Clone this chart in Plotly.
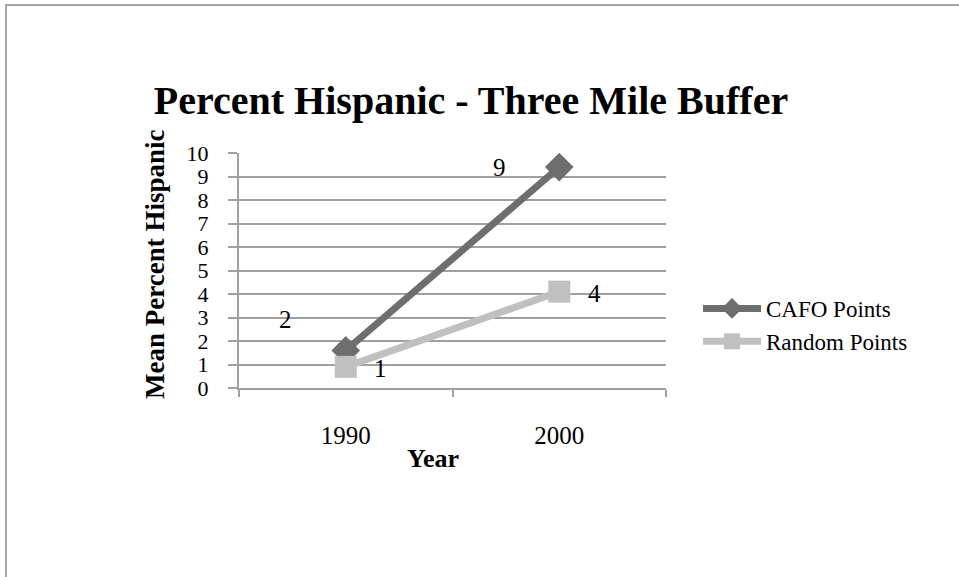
import plotly.graph_objects as go

# Data
years = ["1990", "2000"]
cafo_points = [1.6, 9.4]
random_points = [0.9, 4.1]
y_ticks = list(range(0, 11))

W, H = 959, 577
L, R, T, B = 239, 666, 153, 388  # plot area edges in pixels
FONT = "Liberation Serif"
LABEL_SIZE = 25


def px_x(px):
    return (px - L) / (R - L)


def px_y(py):
    return 1 - (py - T) / (B - T)


fig = go.Figure()
fig.add_trace(go.Scatter(
    x=years, y=cafo_points, name="CAFO Points", mode="lines+markers",
    line=dict(color="#6e6e6e", width=7),
    marker=dict(symbol="diamond", size=22, color="#6e6e6e"),
))
fig.add_trace(go.Scatter(
    x=years, y=random_points, name="Random Points", mode="lines+markers",
    line=dict(color="#c0c0c0", width=7),
    marker=dict(symbol="square", size=22, color="#c0c0c0"),
))

annotations = []
# value labels, rounded to whole percent (category index used for x)
for i, v in enumerate(cafo_points):
    annotations.append(dict(
        x=i, y=v, xref="x", yref="y", text=f"{v:.0f}", showarrow=False,
        xanchor="center", yanchor="middle",
        xshift=-60, yshift=31 if i == 0 else 0,
        font=dict(family=FONT, size=LABEL_SIZE, color="#000"),
    ))
for i, v in enumerate(random_points):
    annotations.append(dict(
        x=i, y=v, xref="x", yref="y", text=f"{v:.0f}", showarrow=False,
        xanchor="center", yanchor="middle",
        xshift=35, yshift=-2,
        font=dict(family=FONT, size=LABEL_SIZE, color="#000"),
    ))

# axis titles
annotations.append(dict(
    x=px_x(155), y=px_y(265), xref="paper", yref="paper",
    xanchor="center", yanchor="middle",
    text="<b>Mean Percent Hispanic</b>", textangle=-90, showarrow=False,
    font=dict(family=FONT, size=27, color="#000"),
))
annotations.append(dict(
    x=px_x(433), y=px_y(458), xref="paper", yref="paper",
    xanchor="center", yanchor="middle",
    text="<b>Year</b>", showarrow=False,
    font=dict(family=FONT, size=26, color="#000"),
))

fig.update_layout(
    width=W, height=H,
    margin=dict(l=L, r=W - R, t=T, b=H - B, pad=0),
    paper_bgcolor="white", plot_bgcolor="white",
    title=dict(
        text="<b>Percent Hispanic - Three Mile Buffer</b>",
        x=471 / W, xanchor="center", xref="container",
        y=1 - 100 / H, yanchor="middle", yref="container",
        font=dict(family=FONT, size=40, color="#000"),
    ),
    font=dict(family=FONT, color="#000"),
    legend=dict(
        x=px_x(698), y=px_y(287), xanchor="left", yanchor="top",
        font=dict(family=FONT, size=23, color="#000"),
        bgcolor="rgba(0,0,0,0)", itemwidth=58,
    ),
    annotations=annotations,
    shapes=[dict(
        type="rect", xref="paper", yref="paper",
        x0=px_x(6), x1=px_x(975), y0=px_y(5), y1=px_y(600),
        line=dict(color="#a6a6a6", width=2), fillcolor="rgba(0,0,0,0)",
        layer="below",
    )],
)

fig.update_xaxes(
    type="category", range=[-0.5, 1.5], tickson="boundaries",
    ticks="outside", ticklen=7, tickcolor="#a0a0a0", tickwidth=2,
    showline=True, linecolor="#a0a0a0", linewidth=2, showgrid=False,
    tickfont=dict(family=FONT, size=LABEL_SIZE, color="#000"),
    ticklabelstandoff=24, zeroline=False,
)
fig.update_yaxes(
    range=[0, 10], tickvals=y_ticks, ticks="outside", ticklen=9,
    tickcolor="#a0a0a0", tickwidth=2,
    showline=True, linecolor="#a0a0a0", linewidth=2,
    showgrid=True, gridcolor="#a0a0a0", gridwidth=2,
    tickfont=dict(family=FONT, size=22, color="#000"),
    ticklabelstandoff=15, zeroline=False,
)

fig.write_html("out.html")
